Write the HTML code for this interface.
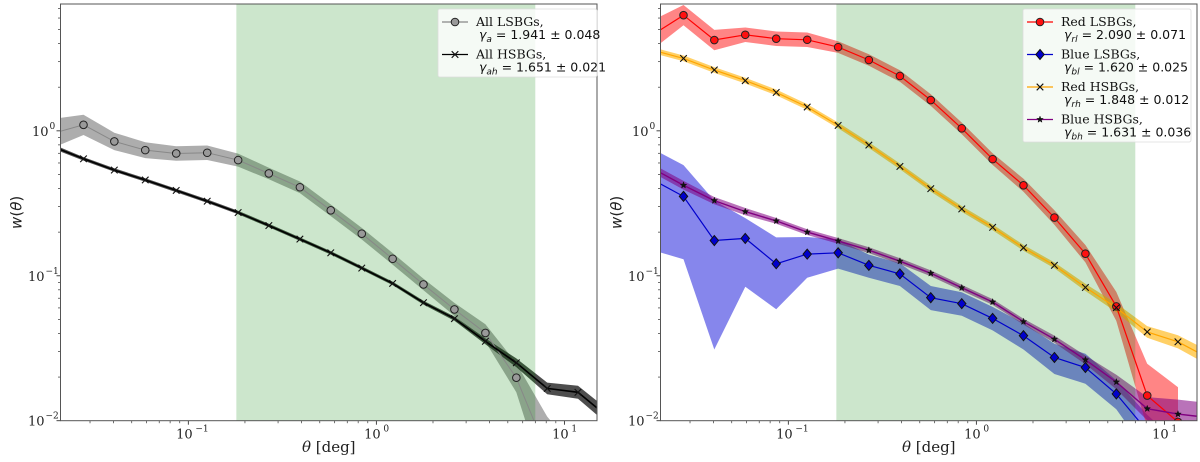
<!DOCTYPE html>
<html><head><meta charset="utf-8">
<style>
html,body{margin:0;padding:0;background:#fff;overflow:hidden;width:1200px;height:462px;}
svg{display:block;}
.tk{font-family:"DejaVu Serif","Liberation Serif",serif;font-size:13px;fill:#222;}
.lg{font-family:"DejaVu Serif","Liberation Serif",serif;font-size:12.5px;fill:#111;}
.lgm{font-family:"DejaVu Sans","Liberation Sans",sans-serif;font-size:12.5px;fill:#111;}
</style></head>
<body>
<svg id="fig" width="1200" height="462" viewBox="0 0 1200 462" xmlns="http://www.w3.org/2000/svg"></svg>
<script>
// ---- data ----
const thetas = [0.019,0.0277,0.0404,0.059,0.0862,0.126,0.184,0.268,0.392,0.572,0.836,1.22,1.78,2.60,3.80,5.55,8.1,11.8,17.2];
const allLSBG = [0.96,1.10,0.845,0.736,0.698,0.706,0.628,0.508,0.408,0.283,0.195,0.131,0.0871,0.0586,0.0403,0.0198,0.006,0.003,null];
const allLSBGerr = [0.1,0.07,0.06,0.055,0.05,0.05,0.045,0.04,0.04,0.04,0.04,0.04,0.04,0.045,0.06,0.1,0.25,0.3,null];
const allHSBG = [0.78,0.641,0.536,0.458,0.388,0.327,0.273,0.222,0.179,0.144,0.113,0.0886,0.0652,0.0506,0.0353,0.0251,0.0167,0.0157,0.0105];
const allHSBGerr = [0.015,0.012,0.012,0.012,0.012,0.012,0.012,0.012,0.012,0.012,0.012,0.012,0.013,0.015,0.02,0.03,0.04,0.045,0.05];
const redLSBG = [4.6,6.28,4.23,4.60,4.32,4.25,3.78,3.08,2.39,1.63,1.04,0.638,0.421,0.252,0.142,0.0615,0.0149,0.0098,null];
const redLSBGerr = [0.1,0.07,0.07,0.05,0.05,0.05,0.04,0.04,0.04,0.04,0.04,0.04,0.045,0.05,0.06,0.1,0.22,0.24,null];
const blueLSBG = [0.46,0.353,0.175,0.181,0.121,0.141,0.144,0.118,0.103,0.0706,0.0642,0.0508,0.0386,0.0273,0.0233,0.0153,0.0085,0.005,null];
const blueLSBGhi = [0.75,0.58,0.33,0.25,0.184,0.185,0.178,0.14,0.122,0.085,0.077,0.061,0.047,0.034,0.029,0.019,0.011,0.007,null];
const blueLSBGlo = [0.15,0.13,0.031,0.084,0.0587,0.097,0.112,0.097,0.085,0.058,0.053,0.042,0.031,0.021,0.018,0.012,0.006,0.003,null];
const redHSBG = [3.6,3.16,2.63,2.22,1.84,1.46,1.09,0.797,0.568,0.399,0.289,0.216,0.156,0.118,0.0831,0.0602,0.0410,0.0350,0.027];
const redHSBGerr = [0.02,0.02,0.02,0.02,0.02,0.02,0.02,0.02,0.02,0.02,0.02,0.02,0.02,0.02,0.025,0.03,0.04,0.045,0.05];
const blueHSBG = [0.55,0.421,0.330,0.277,0.239,0.200,0.174,0.150,0.126,0.104,0.0826,0.0659,0.0482,0.0365,0.0263,0.0185,0.0121,0.0111,0.0105];
const blueHSBGerr = [0.03,0.03,0.025,0.025,0.02,0.02,0.02,0.02,0.02,0.02,0.02,0.02,0.02,0.025,0.03,0.05,0.08,0.1,0.1];
const fitRange = [0.18,7.0];
const xTicks = [0.1,1,10];
const xTickExp = ["−1","0","1"];
const yTicks = [0.01,0.1,1];
const yTickExp = ["−2","−1","0"];

// ---- axes ----
const NS="http://www.w3.org/2000/svg";
const svg=document.getElementById('fig');
const XMIN=0.0209, XMAX=14.9, YMIN=0.01, YMAX=7.5, TOP=4, BOT=420.7;
function mk(tag,attrs,parent){const e=document.createElementNS(NS,tag);for(const k in attrs)e.setAttribute(k,attrs[k]);(parent||svg).appendChild(e);return e;}
function makeAxes(x0,x1){
  return {
    x:v=>x0+(Math.log10(v)-Math.log10(XMIN))/(Math.log10(XMAX)-Math.log10(XMIN))*(x1-x0),
    y:v=>BOT-(Math.log10(v)-Math.log10(YMIN))/(Math.log10(YMAX)-Math.log10(YMIN))*(BOT-TOP),
    x0:x0,x1:x1
  };
}
function band(ax,g,vals,lo,hi,fill,op,name){
  const up=[],dn=[];
  for(let i=0;i<thetas.length;i++){
    if(vals[i]==null)continue;
    const h=hi(i),l=lo(i);
    up.push([ax.x(thetas[i]),ax.y(h)]);dn.push([ax.x(thetas[i]),ax.y(l)]);
  }
  const pts=up.concat(dn.reverse()).map(p=>p[0].toFixed(1)+','+p[1].toFixed(1)).join(' ');
  const p=mk('polygon',{points:pts,fill:fill,'fill-opacity':op,stroke:'none'},g);
  
  
}
function line(ax,g,vals,color,w,name){
  const pts=[];
  for(let i=0;i<thetas.length;i++){if(vals[i]!=null)pts.push(ax.x(thetas[i]).toFixed(1)+','+ax.y(vals[i]).toFixed(1));}
  const p=mk('polyline',{points:pts.join(' '),fill:'none',stroke:color,'stroke-width':w},g);
  
  
}
function marker(g,type,cx,cy,fill){
  let e;
  if(type==='o'){e=mk('circle',{cx:cx,cy:cy,r:3.8,fill:fill,stroke:'#222','stroke-width':1},g);}
  else if(type==='x'){e=mk('path',{d:`M${cx-3.3},${cy-3.3}L${cx+3.3},${cy+3.3}M${cx-3.3},${cy+3.3}L${cx+3.3},${cy-3.3}`,stroke:'#111','stroke-width':1.1,fill:'none'},g);}
  else if(type==='d'){e=mk('path',{d:`M${cx},${cy-5}L${cx+4.2},${cy}L${cx},${cy+5}L${cx-4.2},${cy}Z`,fill:fill,stroke:'#111','stroke-width':1},g);}
  else {let d='';for(let k=0;k<10;k++){const r=k%2?1.4:3.4;const a=-Math.PI/2+k*Math.PI/5;d+=(k?'L':'M')+(cx+r*Math.cos(a)).toFixed(2)+','+(cy+r*Math.sin(a)).toFixed(2);}e=mk('path',{d:d+'Z',fill:'#111',stroke:'#111','stroke-width':0.5},g);}
  return e;
}
function markers(ax,g,vals,type,fill,name){
  for(let i=1;i<thetas.length;i++){
    if(vals[i]==null)continue;
    const t=thetas[i];if(t>12.5)continue;
    const e=marker(g,type,ax.x(t),ax.y(vals[i]),fill);
    
    
  }
}
function frame(ax,id){
  const clip=mk('clipPath',{id:'clip'+id});
  mk('rect',{x:ax.x0,y:TOP,width:ax.x1-ax.x0,height:BOT-TOP},clip);
  const g=mk('g',{'clip-path':`url(#clip${id})`});
  
  
  return g;
}
function greenBand(ax,g){
  const gr=mk('rect',{x:ax.x(fitRange[0]),y:TOP,width:ax.x(fitRange[1])-ax.x(fitRange[0]),height:BOT-TOP,fill:'rgb(0,128,0)','fill-opacity':0.2},g);
  
  
}
function axisDecor(ax,id){
  const ag=mk('g',{});
  
  
  for(let d=-2;d<=1;d++)for(let m=2;m<=9;m++){const v=m*Math.pow(10,d);if(v<XMIN||v>XMAX)continue;const X=ax.x(v);mk('line',{x1:X,x2:X,y1:BOT,y2:BOT+2.5,stroke:'#333','stroke-width':0.7},ag);}
  for(let d=-2;d<=0;d++)for(let m=2;m<=9;m++){const v=m*Math.pow(10,d);if(v<YMIN||v>YMAX)continue;const Y=ax.y(v);mk('line',{x1:ax.x0-2.5,x2:ax.x0,y1:Y,y2:Y,stroke:'#333','stroke-width':0.7},ag);}
  xTicks.forEach((v,i)=>{const X=ax.x(v);mk('line',{x1:X,x2:X,y1:BOT,y2:BOT+4,stroke:'#333','stroke-width':0.9},ag);
    const t=mk('text',{x:X-4,y:BOT+18,class:'tk','text-anchor':'middle'},ag);t.textContent='10';
    const s=mk('text',{x:X+7,y:BOT+11,class:'tk','text-anchor':'start',style:'font-size:9px'},ag);s.textContent=xTickExp[i];
    });
  yTicks.forEach((v,i)=>{const Y=ax.y(v);mk('line',{x1:ax.x0-4,x2:ax.x0,y1:Y,y2:Y,stroke:'#333','stroke-width':0.9},ag);
    const w=yTickExp[i].length>1?10:6;
    const t=mk('text',{x:ax.x0-6-w,y:Y+5,class:'tk','text-anchor':'end'},ag);t.textContent='10';
    const s=mk('text',{x:ax.x0-5-w,y:Y-2,class:'tk',style:'font-size:9px'},ag);s.textContent=yTickExp[i];
    });
  mk('rect',{x:ax.x0,y:TOP,width:ax.x1-ax.x0,height:BOT-TOP,fill:'none',stroke:'#555','stroke-width':1},ag);
  const xl=mk('text',{x:(ax.x0+ax.x1)/2,y:452,class:'tk','text-anchor':'middle',style:'font-size:15px'},ag);
  xl.innerHTML='<tspan font-style="italic">θ</tspan> [deg]';
  
  const yl=mk('text',{x:0,y:0,transform:`translate(${ax.x0-39},${(TOP+BOT)/2}) rotate(-90)`,'text-anchor':'middle',style:'font-family:"DejaVu Sans","Liberation Sans",sans-serif;font-size:15px;fill:#222'},ag);
  yl.innerHTML='<tspan font-style="italic">w</tspan>(<tspan font-style="italic">θ</tspan>)';
  
}
function legend(x,y,w,entries,id){
  const g=mk('g',{});
  
  
  mk('rect',{x:x,y:y,width:w,height:entries.length*32.5+3,fill:'#fff','fill-opacity':0.8,stroke:'#ddd','stroke-width':0.8,rx:2},g);
  entries.forEach((e,i)=>{
    const eg=mk('g',{},g);
    
    
    const yy=y+13+i*32.5;
    mk('line',{x1:x+4,x2:x+30,y1:yy,y2:yy,stroke:e.color,'stroke-width':1.3},eg);
    marker(eg,e.m,x+17,yy,e.fill);
    const t1=mk('text',{x:x+38,y:yy+4,class:'lg'},eg);t1.textContent=e.name;
    const t2=mk('text',{x:x+41,y:yy+17,class:'lgm'},eg);
    t2.innerHTML=`<tspan font-style="italic">γ</tspan><tspan font-style="italic" font-size="9" dy="3">${e.sub}</tspan><tspan dy="-3"> = ${e.val}</tspan>`;
  });
}

// Left panel
const axL=makeAxes(60.5,597);
const gL=frame(axL,'left');
band(axL,gL,allLSBG,i=>allLSBG[i]/Math.pow(10,allLSBGerr[i]),i=>allLSBG[i]*Math.pow(10,allLSBGerr[i]),'#777',0.6,'all-lsbg-band');
band(axL,gL,allHSBG,i=>allHSBG[i]/Math.pow(10,allHSBGerr[i]),i=>allHSBG[i]*Math.pow(10,allHSBGerr[i]),'#222',0.8,'all-hsbg-band');
greenBand(axL,gL);
line(axL,gL,allLSBG,'#888',1,'all-lsbg-line');
line(axL,gL,allHSBG,'#000',1.6,'all-hsbg-line');
markers(axL,gL,allLSBG,'o','#999','all-lsbg-point');
markers(axL,gL,allHSBG,'x','#000','all-hsbg-point');
axisDecor(axL,'left');
legend(438,9,159,[
 {name:'All LSBGs,',sub:'a',val:'1.941 ± 0.048',color:'#888',m:'o',fill:'#999'},
 {name:'All HSBGs,',sub:'ah',val:'1.651 ± 0.021',color:'#000',m:'x',fill:'#000'}],'left');

// Right panel
const axR=makeAxes(660.5,1197);
const gR=frame(axR,'right');
band(axR,gR,blueLSBG,i=>blueLSBGlo[i],i=>blueLSBGhi[i],'#2222dd',0.55,'blue-lsbg-band');
band(axR,gR,redLSBG,i=>redLSBG[i]/Math.pow(10,redLSBGerr[i]),i=>redLSBG[i]*Math.pow(10,redLSBGerr[i]),'#ff2020',0.55,'red-lsbg-band');
band(axR,gR,redHSBG,i=>redHSBG[i]/Math.pow(10,redHSBGerr[i]),i=>redHSBG[i]*Math.pow(10,redHSBGerr[i]),'#ffb000',0.6,'red-hsbg-band');
band(axR,gR,blueHSBG,i=>blueHSBG[i]/Math.pow(10,blueHSBGerr[i]),i=>blueHSBG[i]*Math.pow(10,blueHSBGerr[i]),'#800080',0.55,'blue-hsbg-band');
greenBand(axR,gR);
line(axR,gR,redLSBG,'#ff0000',1.2,'red-lsbg-line');
line(axR,gR,blueLSBG,'#0000cc',1.2,'blue-lsbg-line');
line(axR,gR,redHSBG,'#ffa500',1.2,'red-hsbg-line');
line(axR,gR,blueHSBG,'#800080',1.4,'blue-hsbg-line');
markers(axR,gR,redLSBG,'o','#ff1010','red-lsbg-point');
markers(axR,gR,blueLSBG,'d','#0000cc','blue-lsbg-point');
markers(axR,gR,redHSBG,'x','#000','red-hsbg-point');
markers(axR,gR,blueHSBG,'s','#000','blue-hsbg-point');
axisDecor(axR,'right');
legend(1023,9,168,[
 {name:'Red LSBGs,',sub:'rl',val:'2.090 ± 0.071',color:'#ff0000',m:'o',fill:'#ff1010'},
 {name:'Blue LSBGs,',sub:'bl',val:'1.620 ± 0.025',color:'#0000cc',m:'d',fill:'#0000cc'},
 {name:'Red HSBGs,',sub:'rh',val:'1.848 ± 0.012',color:'#ffa500',m:'x',fill:'#000'},
 {name:'Blue HSBGs,',sub:'bh',val:'1.631 ± 0.036',color:'#800080',m:'s',fill:'#000'}],'right');
</script>
</body></html>
